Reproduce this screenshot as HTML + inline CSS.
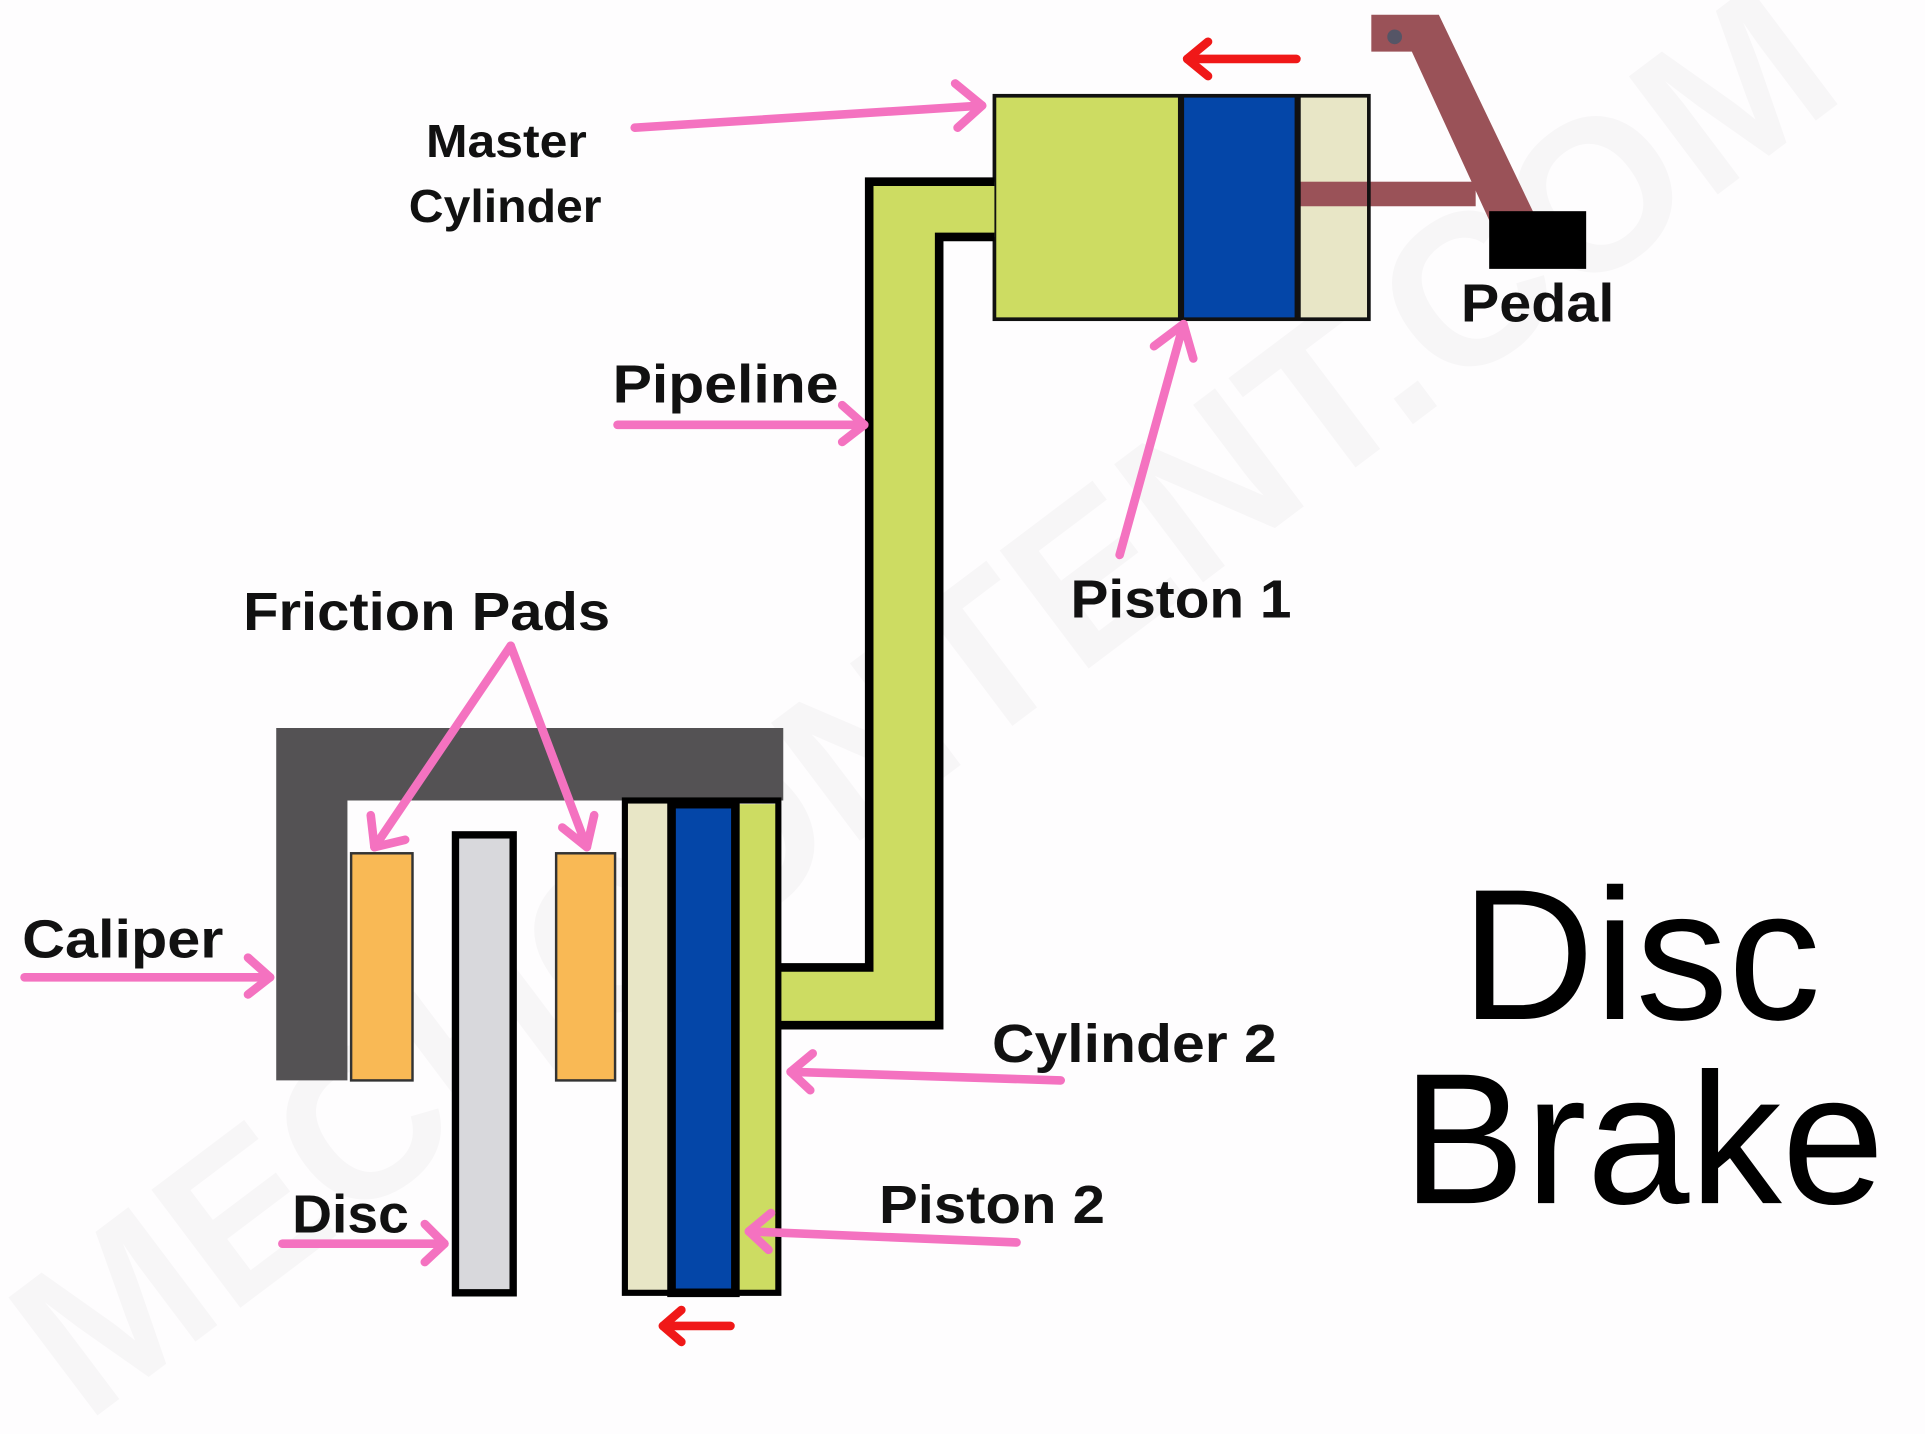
<!DOCTYPE html>
<html><head><meta charset="utf-8"><style>
html,body{margin:0;padding:0;background:#fff;}
svg{display:block;}
text{font-family:"Liberation Sans",sans-serif;}
.l{font-weight:bold;fill:#111;}
</style></head><body>
<svg width="1925" height="1434" viewBox="0 0 1568 1168" preserveAspectRatio="none" xmlns="http://www.w3.org/2000/svg">
<rect width="1568" height="1168" fill="#fefdfe"/>
<text x="0" y="0" transform="translate(70,1160) rotate(-37)" font-size="175" font-weight="bold" fill="#000" opacity="0.025" font-family="Liberation Sans">MECHCONTENT.COM</text>

<!-- pedal lever -->
<polygon points="1117,12 1172,12 1250,175 1217,188 1150,42 1117,42" fill="#9a5258"/>
<circle cx="1136" cy="30" r="6" fill="#556"/>
<rect x="1213" y="172" width="79" height="47" fill="#000"/>

<!-- master cylinder -->
<rect x="810" y="78" width="152" height="182" fill="#cddc62"/>
<rect x="962" y="78" width="95" height="182" fill="#0446a8"/>
<rect x="1057" y="78" width="58" height="182" fill="#e8e6c6"/>
<rect x="1057" y="148" width="145" height="20" fill="#9a5258"/>
<rect x="810" y="78" width="305" height="182" fill="none" stroke="#111" stroke-width="3"/>
<line x1="962" y1="78" x2="962" y2="260" stroke="#111" stroke-width="5"/>
<line x1="1057" y1="78" x2="1057" y2="260" stroke="#111" stroke-width="5"/>

<!-- pipe -->
<polygon points="708,148 810,148 810,193 765,193 765,835 636,835 636,788 708,788" fill="#cddc62"/>
<polyline points="810,148 708,148 708,788 636,788" fill="none" stroke="#000" stroke-width="7"/>
<polyline points="810,193 765,193 765,835 636,835" fill="none" stroke="#000" stroke-width="7"/>

<!-- caliper -->
<path d="M225,593 H638 V652 H283 V880 H225 Z" fill="#545254"/>
<rect x="286" y="695" width="50" height="185" fill="#f9b955" stroke="#333" stroke-width="2"/>
<rect x="453" y="695" width="48" height="185" fill="#f9b955" stroke="#333" stroke-width="2"/>
<rect x="371" y="680" width="47" height="373" fill="#d8d8dc" stroke="#000" stroke-width="6"/>

<!-- cylinder 2 -->
<rect x="509" y="652" width="38" height="401" fill="#e8e6c6"/>
<rect x="599" y="655" width="35" height="398" fill="#cddc62"/>
<rect x="547" y="655" width="52" height="398" fill="#0446a8" stroke="#000" stroke-width="7"/>
<rect x="509" y="652" width="125" height="401" fill="none" stroke="#000" stroke-width="5"/>

<!-- pink arrows -->
<g stroke="#f472c0" stroke-width="7" stroke-linecap="round" fill="none" stroke-linejoin="round">
<line x1="517" y1="104" x2="800" y2="86"/><polyline points="778,68 800,86 780,104"/>
<line x1="503" y1="346" x2="704" y2="346"/><polyline points="686,330 704,346 686,360"/>
<line x1="912" y1="452" x2="964" y2="264"/><polyline points="940,282 964,264 972,292"/>
<line x1="416" y1="526" x2="305" y2="690"/><polyline points="302,664 305,690 330,684"/>
<line x1="416" y1="526" x2="478" y2="690"/><polyline points="458,674 478,690 484,664"/>
<line x1="20" y1="796" x2="220" y2="796"/><polyline points="202,780 220,796 202,810"/>
<line x1="864" y1="880" x2="644" y2="873"/><polyline points="662,858 644,873 660,888"/>
<line x1="828" y1="1012" x2="610" y2="1003"/><polyline points="628,988 610,1003 626,1018"/>
<line x1="230" y1="1013" x2="362" y2="1013"/><polyline points="346,997 362,1013 346,1028"/>
</g>
<!-- red arrows -->
<g stroke="#f01818" stroke-width="7" stroke-linecap="round" fill="none" stroke-linejoin="round">
<line x1="1056" y1="48" x2="967" y2="48"/><polyline points="984,34 967,48 984,62"/>
<line x1="595" y1="1080" x2="540" y2="1080"/><polyline points="555,1067 540,1080 555,1093"/>
</g>

<!-- labels -->
<text class="l" x="347" y="128" font-size="38" textLength="131" lengthAdjust="spacingAndGlyphs">Master</text>
<text class="l" x="333" y="181" font-size="38" textLength="157" lengthAdjust="spacingAndGlyphs">Cylinder</text>
<text class="l" x="499" y="328" font-size="44" textLength="184" lengthAdjust="spacingAndGlyphs">Pipeline</text>
<text class="l" x="198" y="513" font-size="44" textLength="299" lengthAdjust="spacingAndGlyphs">Friction Pads</text>
<text class="l" x="872" y="503" font-size="44" textLength="180" lengthAdjust="spacingAndGlyphs">Piston 1</text>
<text class="l" x="1190" y="262" font-size="44" textLength="125" lengthAdjust="spacingAndGlyphs">Pedal</text>
<text class="l" x="18" y="780" font-size="44" textLength="164" lengthAdjust="spacingAndGlyphs">Caliper</text>
<text class="l" x="808" y="865" font-size="44" textLength="232" lengthAdjust="spacingAndGlyphs">Cylinder 2</text>
<text class="l" x="716" y="996" font-size="44" textLength="184" lengthAdjust="spacingAndGlyphs">Piston 2</text>
<text class="l" x="238" y="1004" font-size="44" textLength="95" lengthAdjust="spacingAndGlyphs">Disc</text>
<text x="1190" y="830" font-size="152" fill="#000" textLength="293" lengthAdjust="spacingAndGlyphs">Disc</text>
<text x="1142" y="980" font-size="152" fill="#000" textLength="393" lengthAdjust="spacingAndGlyphs">Brake</text>
</svg>
</body></html>
